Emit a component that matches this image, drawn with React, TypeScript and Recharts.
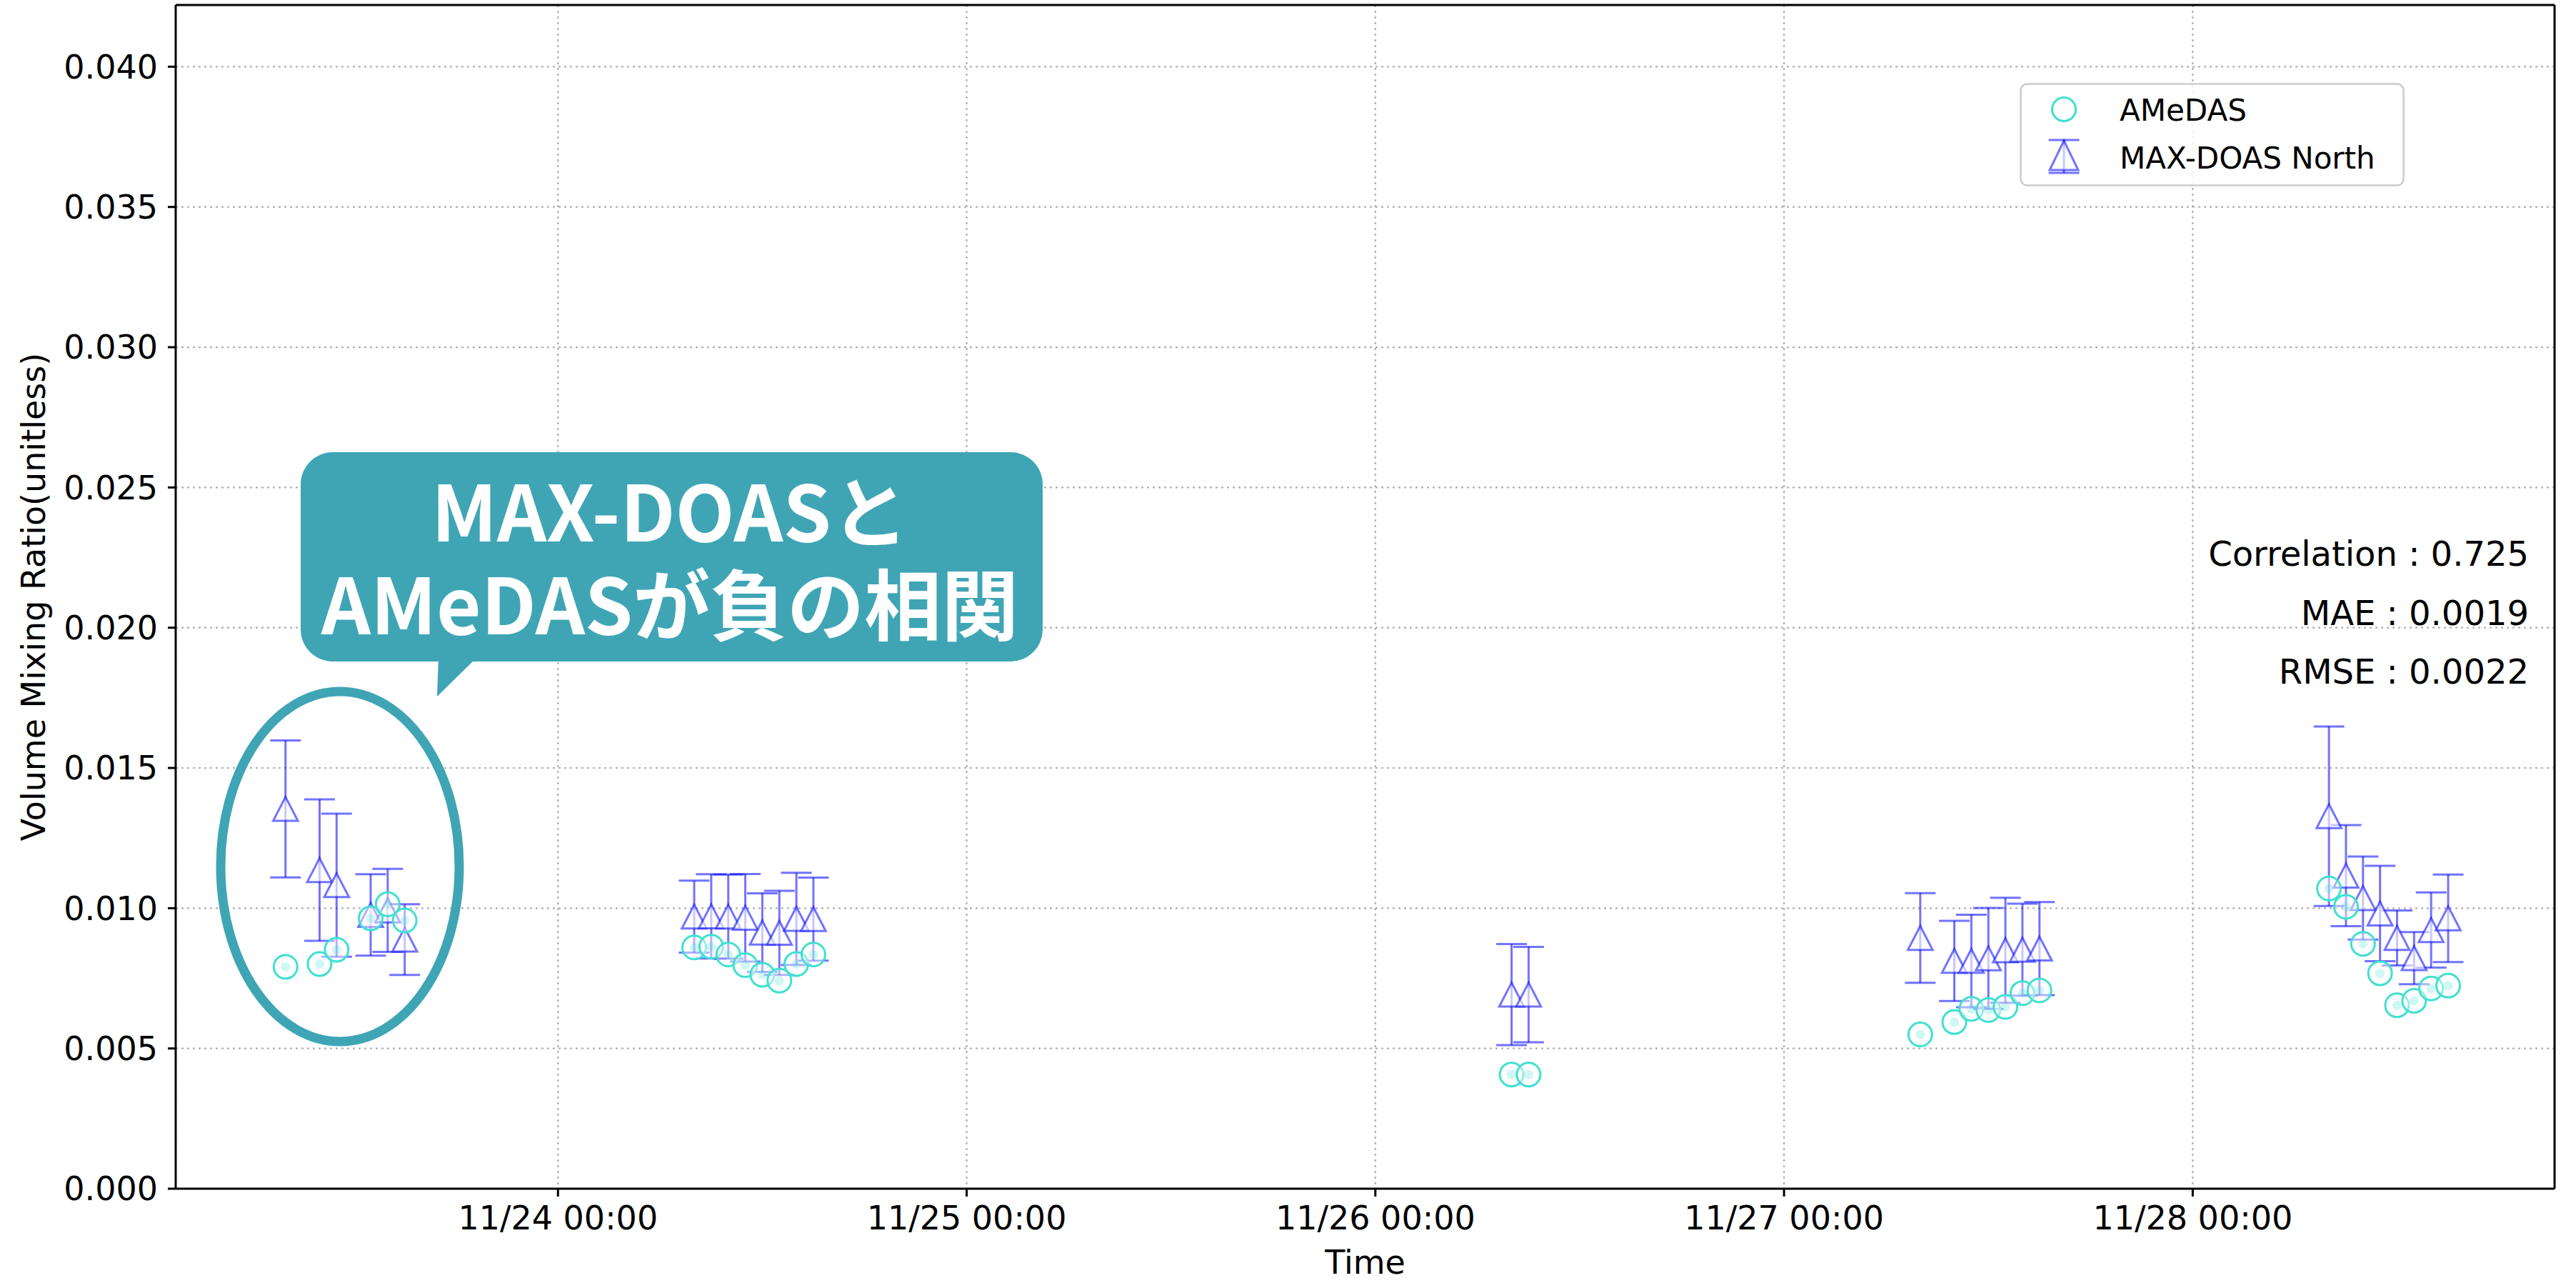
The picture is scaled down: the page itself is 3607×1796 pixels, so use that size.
import React from "react";
import {
  ComposedChart,
  Scatter,
  ErrorBar,
  XAxis,
  YAxis,
  CartesianGrid,
  ReferenceLine,
  Legend,
} from "recharts";

// --- data (hours counted from 11/23 00:00) ---

const hours = [
  8, 10, 11, 13, 14, 15,
  32, 33, 34, 35, 36, 37, 38, 39,
  80, 81,
  104, 106, 107, 108, 109, 110, 111,
  128, 129, 130, 131, 132, 133, 134, 135,
];

const amedasValues = [
  0.00791, 0.00801, 0.00852, 0.00964, 0.01014, 0.00956,
  0.0086, 0.00863, 0.00835, 0.00797, 0.00763, 0.00742, 0.00801, 0.00835,
  0.00407, 0.00407,
  0.0055, 0.00594, 0.00641, 0.00637, 0.00648, 0.00697, 0.00707,
  0.0107, 0.01005, 0.00873, 0.00768, 0.00654, 0.0067, 0.00714, 0.00724,
];

const maxdoasValues = [
  0.01354, 0.01136, 0.01082, 0.00976, 0.00992, 0.00888,
  0.0097, 0.00971, 0.0097, 0.00966, 0.00913, 0.00912, 0.00962, 0.00961,
  0.00692, 0.00692,
  0.00894, 0.00812, 0.00812, 0.00821, 0.0085, 0.00852, 0.00856,
  0.01328, 0.01116, 0.01036, 0.00981, 0.00894, 0.00822, 0.00922, 0.00964,
];

const maxdoasErrors = [
  0.00244, 0.00252, 0.00255, 0.00145, 0.00148, 0.00126,
  0.00128, 0.0015, 0.0015, 0.00156, 0.0014, 0.0015, 0.00164, 0.00148,
  0.0018, 0.0017,
  0.0016, 0.00143, 0.00165, 0.0018, 0.00187, 0.00164, 0.00166,
  0.0032, 0.0018, 0.00148, 0.0017, 0.00098, 0.00093, 0.00134, 0.00156,
];

const xTicks = [24, 48, 72, 96, 120];
const xTickLabels = ["11/24 00:00", "11/25 00:00", "11/26 00:00", "11/27 00:00", "11/28 00:00"];
const yTicks = [0, 0.005, 0.01, 0.015, 0.02, 0.025, 0.03, 0.035, 0.04];

const statsLines = ["Correlation : 0.725", "MAE : 0.0019", "RMSE : 0.0022"];
const calloutLines = ["MAX-DOASと", "AMeDASが負の相関"];

const amedasData = hours.map((h, i) => ({ h, v: amedasValues[i] }));
const maxdoasData = hours.map((h, i) => ({ h, v: maxdoasValues[i], err: maxdoasErrors[i] }));

// --- look ---

const W = 3607;
const H = 1796;
const X_MIN = 1.55;
const X_MAX = 141.25;
const Y_MAX = 0.0422;
const TURQ = "#40e0d0";
const BLUE = "#0000ff";
const TEAL = "#3fa5b5";
const FONT = "DejaVu Sans, sans-serif";

const tickStyle = { fontSize: 46, fill: "#000", fontFamily: FONT };

const CircleMark = (props: any) => {
  const { cx, cy } = props;
  if (cx == null || cy == null) return null;
  return (
    <g>
      <circle cx={cx} cy={cy} r={16.5} fill="#fff" fillOpacity={0.45} stroke={TURQ} strokeWidth={3} />
      <circle cx={cx} cy={cy} r={6.5} fill={TURQ} fillOpacity={0.25} />
    </g>
  );
};

const TriangleMark = (props: any) => {
  const { cx, cy } = props;
  if (cx == null || cy == null) return null;
  const pts = `${cx},${cy - 16.7} ${cx - 17.3},${cy + 16.7} ${cx + 17.3},${cy + 16.7}`;
  return (
    <polygon
      points={pts}
      fill="#fff"
      fillOpacity={0.6}
      stroke={BLUE}
      strokeOpacity={0.55}
      strokeWidth={3}
    />
  );
};

const LegendBox = () => (
  <svg width={540} height={146} style={{ display: "block" }}>
    <rect x={1.5} y={1.5} width={536} height={142} rx={9} fill="#fff" fillOpacity={0.8} stroke="#cccccc" strokeWidth={2.5} />
    <circle cx={62} cy={37} r={16.5} fill="none" stroke={TURQ} strokeWidth={3} />
    <text x={140} y={53} fontSize={42} fontFamily={FONT} fill="#000">AMeDAS</text>
    <g stroke={BLUE} strokeOpacity={0.55} strokeWidth={3}>
      <line x1={62} y1={80} x2={62} y2={126} />
      <line x1={40.5} y1={80} x2={83.5} y2={80} />
      <line x1={40.5} y1={126} x2={83.5} y2={126} />
    </g>
    <polygon points="62,81 42,122 82,122" fill="#fff" fillOpacity={0.6} stroke={BLUE} strokeOpacity={0.55} strokeWidth={3} />
    <text x={140} y={120} fontSize={42} fontFamily={FONT} fill="#000">MAX-DOAS North</text>
  </svg>
);

const YTitle = (props: any) => {
  const vb = props.viewBox || { x: 86, y: 7, height: 1657 };
  const x = vb.x - 23;
  const y = vb.y + vb.height / 2;
  return (
    <text x={x} y={y} transform={`rotate(-90, ${x}, ${y})`} textAnchor="middle" fontSize={46} fontFamily={FONT} fill="#000">
      Volume Mixing Ratio(unitless)
    </text>
  );
};

const XTitle = (props: any) => {
  const vb = props.viewBox || { x: 246, y: 1664, width: 3331, height: 100 };
  return (
    <text x={vb.x + vb.width / 2} y={vb.y + vb.height + 19} textAnchor="middle" fontSize={46} fontFamily={FONT} fill="#000">
      Time
    </text>
  );
};

// callout bubble + ellipse + stats, drawn on top of the chart
const Overlay = () => (
  <svg width={W} height={H} style={{ position: "absolute", left: 0, top: 0, pointerEvents: "none" }}>
    {statsLines.map((s, i) => (
      <text key={s} x={3541} y={792 + i * 82.5} textAnchor="end" fontSize={48} fontFamily={FONT} fill="#000">
        {s}
      </text>
    ))}
    <ellipse cx={476} cy={1213} rx={167} ry={245} fill="none" stroke={TEAL} strokeWidth={13} />
    <rect x={421} y={633} width={1039} height={293} rx={45} fill={TEAL} />
    <polygon points="614,920 668,920 612,975" fill={TEAL} />
    <text
      textAnchor="middle"
      fontSize={108}
      fontWeight={700}
      fontFamily="Noto Sans CJK JP, sans-serif"
      fill="#fff"
    >
      {calloutLines.map((s, i) => (
        <tspan key={s} x={938} y={758 + i * 130}>
          {s}
        </tspan>
      ))}
    </text>
  </svg>
);

export default function App() {
  return (
    <div style={{ position: "absolute", left: 0, top: 0, width: W, height: H, background: "#fff" }}>
      <ComposedChart width={W} height={H} margin={{ top: 7, right: 30, left: 86, bottom: 32 }}>
        <CartesianGrid stroke="#b0b0b0" strokeWidth={2.2} strokeDasharray="3 5" />
        <XAxis
          type="number"
          dataKey="h"
          domain={[X_MIN, X_MAX]}
          allowDataOverflow
          ticks={xTicks}
          tickFormatter={(h: number) => xTickLabels[xTicks.indexOf(h)] ?? ""}
          height={100}
          tick={tickStyle}
          tickSize={11}
          tickMargin={13}
          axisLine={{ stroke: "#000", strokeWidth: 3 }}
          tickLine={{ stroke: "#000", strokeWidth: 3 }}
          label={<XTitle />}
        />
        <YAxis
          type="number"
          dataKey="v"
          domain={[0, Y_MAX]}
          allowDataOverflow
          ticks={yTicks}
          tickFormatter={(v: number) => v.toFixed(3)}
          width={160}
          tick={tickStyle}
          tickSize={11}
          tickMargin={14}
          axisLine={{ stroke: "#000", strokeWidth: 3 }}
          tickLine={{ stroke: "#000", strokeWidth: 3 }}
          label={<YTitle />}
        />
        <ReferenceLine y={Y_MAX} stroke="#000" strokeWidth={3} />
        <ReferenceLine x={X_MAX} stroke="#000" strokeWidth={3} />
        <Legend
          layout="horizontal"
          verticalAlign="middle"
          align="center"
          content={() => <LegendBox />}
          wrapperStyle={{ left: 2828, top: 116, width: 540, height: 146 }}
        />
        <Scatter name="MAX-DOAS North" data={maxdoasData} shape={<TriangleMark />} isAnimationActive={false}>
          <ErrorBar
            dataKey="err"
            direction="y"
            width={21.5}
            stroke={BLUE}
            strokeOpacity={0.55}
            strokeWidth={3}
            isAnimationActive={false}
          />
        </Scatter>
        <Scatter name="AMeDAS" data={amedasData} shape={<CircleMark />} isAnimationActive={false} />
      </ComposedChart>
      <Overlay />
    </div>
  );
}
